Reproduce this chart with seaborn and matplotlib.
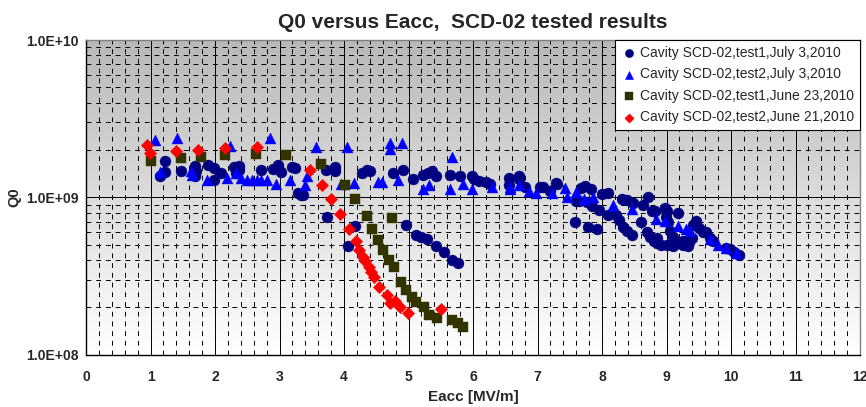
import numpy as np
import pandas as pd
import matplotlib
matplotlib.use("Agg")
import matplotlib.pyplot as plt
import seaborn as sns
from matplotlib.ticker import FixedLocator, NullFormatter

# Cavity SCD-02, test1, July 3 2010 (circles)
t1_jul_eacc = [1.14, 1.22, 1.23, 1.47, 1.69, 1.69, 1.71, 1.89, 1.99, 1.99, 2.09, 2.29, 2.37, 2.37, 2.33,
               2.71, 2.90, 2.97, 3.02, 3.20, 3.24, 3.29, 3.33, 3.36, 3.72, 3.73, 3.86, 3.86, 4.06, 4.17,
               4.28, 4.36, 4.40, 4.76, 4.91, 4.96, 5.07, 5.12, 5.20, 5.28, 5.42, 5.55, 5.68, 5.76, 5.22,
               5.30, 5.36, 5.43, 5.65, 5.80, 5.98, 6.02, 6.10, 6.20, 6.27, 6.56, 6.56, 6.71, 6.71, 6.80,
               7.04, 7.08, 7.19, 7.29, 7.31, 7.58, 7.68, 7.74, 7.83, 7.60, 7.65, 7.76, 7.85, 7.96, 7.78,
               7.93, 8.00, 8.10, 8.09, 8.22, 8.26, 8.32, 8.39, 8.46, 8.31, 8.38, 8.48, 8.60, 8.64, 8.72,
               8.77, 8.82, 8.69, 8.75, 8.80, 8.86, 8.92, 8.97, 9.00, 8.99, 9.02, 9.05, 9.10, 9.15, 9.20,
               9.26, 9.33, 9.18, 9.41, 9.45, 9.50, 9.56, 9.62, 9.67, 9.72, 9.93, 9.98, 10.05, 10.13,
               8.85, 9.00, 9.10, 9.25, 9.35, 9.40]
t1_jul_q0 = [1.37, 1.44, 1.69, 1.46, 1.59, 1.37, 1.48, 1.61, 1.53, 1.29, 1.42, 1.55, 1.58, 1.49, 1.42,
             1.49, 1.51, 1.61, 1.44, 1.57, 1.54, 1.06, 1.04, 1.03, 1.49, 0.75, 1.55, 1.46, 0.49, 0.66,
             1.42, 1.50, 1.47, 1.43, 1.49, 0.67, 1.31, 0.58, 0.56, 0.54, 0.49, 0.45, 0.40, 0.38, 1.38,
             1.42, 1.47, 1.36, 1.39, 1.37, 1.36, 1.30, 1.27, 1.26, 1.22, 1.33, 1.20, 1.37, 1.30, 1.16,
             1.17, 1.16, 1.10, 1.24, 1.22, 0.70, 1.15, 1.18, 1.13, 0.95, 0.95, 0.93, 0.88, 0.83, 0.65,
             0.63, 1.05, 1.06, 0.77, 0.77, 0.72, 0.65, 0.61, 0.58, 0.98, 0.96, 0.92, 0.70, 0.89, 1.00,
             0.82, 0.82, 0.60, 0.56, 0.53, 0.51, 0.50, 0.86, 0.82, 0.75, 0.70, 0.61, 0.56, 0.53, 0.51,
             0.50, 0.49, 0.80, 0.67, 0.71, 0.64, 0.60, 0.60, 0.55, 0.53, 0.48, 0.47, 0.45, 0.43,
             0.55, 0.50, 0.49, 0.53, 0.52, 0.55]

# Cavity SCD-02, test2, July 3 2010 (triangles)
t2_jul_eacc = [1.07, 1.41, 1.14, 1.63, 1.65, 1.88, 2.18, 2.23, 2.33, 2.40, 2.50, 2.58, 2.65, 2.72, 2.80,
               2.85, 2.95, 3.16, 3.56, 3.42, 3.40, 4.05, 3.96, 4.15, 4.53, 4.59, 4.71, 4.71, 4.90, 4.84,
               5.22, 5.32, 5.67, 5.65, 5.84, 5.99, 6.30, 6.57, 6.57, 6.71, 6.87, 6.98, 7.22, 7.42, 7.46,
               7.59, 7.72, 7.86, 8.17, 8.46, 8.84, 8.97, 9.18, 9.31, 9.37, 9.67, 9.80, 9.93, 10.07]
t2_jul_q0 = [2.32, 2.38, 1.44, 1.46, 1.38, 1.29, 1.33, 2.13, 1.42, 1.32, 1.28, 1.28, 1.28, 1.28, 1.28,
             2.38, 1.22, 1.29, 2.10, 1.36, 1.20, 2.10, 1.22, 1.23, 1.25, 1.25, 2.20, 2.03, 2.21, 1.28,
             1.13, 1.19, 1.81, 1.13, 1.22, 1.13, 1.17, 1.13, 1.17, 1.20, 1.10, 1.06, 1.06, 1.15, 1.01,
             1.08, 0.98, 1.00, 0.90, 0.84, 0.73, 0.71, 0.66, 0.63, 0.615, 0.545, 0.50, 0.477, 0.44]

# Cavity SCD-02, test1, June 23 2010 (squares)
t1_jun_eacc = [1.01, 1.47, 1.79, 2.16, 2.64, 3.10, 3.64, 4.01, 4.17, 4.35, 4.75, 4.43, 4.52, 4.60, 4.70,
               4.77, 4.89, 4.96, 5.06, 5.12, 5.24, 5.32, 5.44, 5.68, 5.76, 5.84]
t1_jun_q0 = [1.71, 1.78, 1.81, 1.85, 1.88, 1.87, 1.63, 1.20, 0.98, 0.766, 0.74, 0.63, 0.537, 0.464, 0.40,
             0.363, 0.289, 0.258, 0.232, 0.215, 0.202, 0.18, 0.171, 0.167, 0.158, 0.150]

# Cavity SCD-02, test2, June 21 2010 (diamonds)
t2_jun_eacc = [0.95, 0.99, 1.40, 1.74, 2.16, 2.65, 3.47, 3.66, 3.80, 3.94, 4.07, 4.19, 4.24, 4.29, 4.33,
               4.38, 4.42, 4.46, 4.55, 4.66, 4.72, 4.79, 4.87, 4.99, 5.51]
t2_jun_q0 = [2.16, 1.90, 1.96, 1.99, 2.06, 2.08, 1.49, 1.20, 0.98, 0.785, 0.63, 0.525, 0.464, 0.42, 0.393,
             0.36, 0.334, 0.314, 0.269, 0.241, 0.212, 0.219, 0.202, 0.185, 0.195]

labels = ["Cavity SCD-02,test1,July 3,2010", "Cavity SCD-02,test2,July 3,2010",
          "Cavity SCD-02,test1,June 23,2010", "Cavity SCD-02,test2,June 21,2010"]

sns.set_style("white")
plt.rcParams['font.family'] = ['Liberation Sans', 'DejaVu Sans']

fig = plt.figure(figsize=(8.66, 4.07), dpi=100)
ax = fig.add_axes([86 / 866, 52.3 / 407, 774 / 866, 314.7 / 407])

# gray gradient plot area like the Excel chart
grad = np.linspace(1.0, 0.72, 256).reshape(-1, 1)
ax.imshow(grad, cmap='gray', vmin=0, vmax=1, extent=[0, 1, 0, 1], transform=ax.transAxes,
          aspect='auto', origin='lower', zorder=0)

series = [
    (t1_jul_eacc, t1_jul_q0, 'o', '#000080', 62),
    (t2_jul_eacc, t2_jul_q0, '^', '#0000FF', 62),
    (t1_jun_eacc, t1_jun_q0, 's', '#333300', 52),
    (t2_jun_eacc, t2_jun_q0, 'D', '#FF0000', 40),
]
for (xs, ys, mk, col, sz), lab in zip(series, labels):
    df = pd.DataFrame({'Eacc': xs, 'Q0': np.array(ys) * 1e9})
    sns.scatterplot(data=df, x='Eacc', y='Q0', marker=mk, color=col, s=sz, edgecolor=col,
                    linewidth=0.3, label=lab, ax=ax, zorder=3)

ax.set_yscale('log')
ax.set_xlim(0, 12)
ax.set_ylim(1e8, 1e10)
ax.set_xticks(range(0, 13))
ax.set_yticks([1e8, 1e9, 1e10])
ax.set_yticklabels(['1.0E+08', '1.0E+09', '1.0E+10'])
ax.xaxis.set_minor_locator(FixedLocator(np.arange(0, 12.01, 0.2)))
minor_y = [m * 10 ** e for e in (8, 9) for m in range(2, 10)]
ax.yaxis.set_minor_locator(FixedLocator(minor_y))
ax.yaxis.set_minor_formatter(NullFormatter())
ax.tick_params(which='major', direction='out', length=3.5, width=0.8, color='black', labelsize=10)
ax.tick_params(axis='x', which='major', pad=7.5)
ax.tick_params(axis='y', which='major', pad=1.5)
ax.tick_params(which='minor', length=0)
for t in ax.get_xticklabels() + ax.get_yticklabels():
    t.set_fontweight('bold')

ax.grid(which='major', color='black', linewidth=0.7, linestyle='-', zorder=1)
ax.grid(which='minor', color='black', linewidth=0.7, linestyle=(0, (5, 5)), zorder=1)
ax.set_axisbelow(True)

for side in ['left', 'bottom']:
    ax.spines[side].set_color('black')
    ax.spines[side].set_linewidth(1.0)
for side in ['top', 'right']:
    ax.spines[side].set_color('#808080')
    ax.spines[side].set_linewidth(1.0)

ax.set_xlabel('Eacc [MV/m]', fontsize=11, fontweight='bold', labelpad=4)
ax.set_ylabel('Q0', fontsize=10.5, fontweight='bold', labelpad=4)
ax.set_title('Q0 versus Eacc,  SCD-02 tested results', fontsize=15, fontweight='bold', pad=9)

leg = ax.legend(loc='upper right', fontsize=10, frameon=True, fancybox=False, borderaxespad=0,
                handletextpad=0.15, borderpad=0.4, labelspacing=0.55, handlelength=1.3,
                markerscale=0.75)
leg.get_frame().set_edgecolor('black')
leg.get_frame().set_linewidth(0.8)
leg.get_frame().set_facecolor('white')
leg.get_frame().set_alpha(1)
leg.set_zorder(5)

fig.savefig('out.png', dpi=100)
